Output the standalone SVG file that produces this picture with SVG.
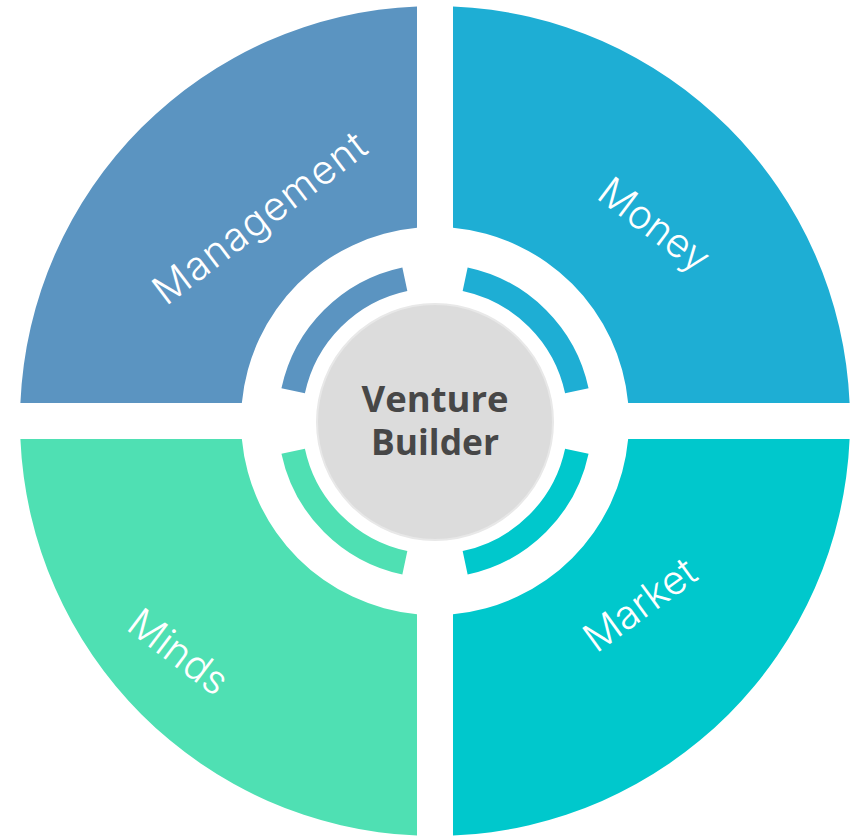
<svg xmlns="http://www.w3.org/2000/svg" width="857" height="838" viewBox="0 0 857 838">
<style>
.lbl{font-family:"Inter","Lato","Liberation Sans",sans-serif;font-weight:300;font-size:40px;fill:#ffffff;text-anchor:middle}
.ring{fill:none;stroke-width:24}
.ctr{font-family:"Open Sans","Liberation Sans",sans-serif;font-weight:700;font-size:35px;fill:#474747;text-anchor:middle}
</style>
<rect width="857" height="838" fill="#ffffff"/>
<g id="management">
<path d="M417,6.39 A415,415 0 0 0 20.39,403 L241.84,403 A194,194 0 0 1 417,227.84 Z" fill="#5b94c1"/>
<path class="ring" d="M293.17,390.85 A145,145 0 0 1 404.85,279.17" stroke="#5b94c1"/>
<text class="lbl" transform="translate(268,229) rotate(-37.2)" textLength="256" lengthAdjust="spacing">Management</text>
</g>
<g id="money">
<path d="M453,6.39 A415,415 0 0 1 849.61,403 L628.16,403 A194,194 0 0 0 453,227.84 Z" fill="#1eaed4"/>
<path class="ring" d="M465.15,279.17 A145,145 0 0 1 576.83,390.85" stroke="#1eaed4"/>
<text class="lbl" transform="translate(646,236) rotate(37)">Money</text>
</g>
<g id="market">
<path d="M849.61,439 A415,415 0 0 1 453,835.61 L453,614.16 A194,194 0 0 0 628.16,439 Z" fill="#00c8cc"/>
<path class="ring" d="M576.83,451.15 A145,145 0 0 1 465.15,562.83" stroke="#00c8cc"/>
<text class="lbl" transform="translate(648,616) rotate(-36)">Market</text>
</g>
<g id="minds">
<path d="M417,835.61 A415,415 0 0 1 20.39,439 L241.84,439 A194,194 0 0 0 417,614.16 Z" fill="#4fe0b3"/>
<path class="ring" d="M404.85,562.83 A145,145 0 0 1 293.17,451.15" stroke="#4fe0b3"/>
<text class="lbl" transform="translate(170,663) rotate(37)">Minds</text>
</g>
<g id="venture-builder">
<circle cx="435" cy="422" r="118" fill="#dcdcdc" stroke="#e8e8e8" stroke-width="2"/>
<text class="ctr" x="435" y="412" textLength="147" lengthAdjust="spacingAndGlyphs">Venture</text>
<text class="ctr" x="435" y="455" textLength="128" lengthAdjust="spacingAndGlyphs">Builder</text>
</g>
<g id="connectors"/>
</svg>
